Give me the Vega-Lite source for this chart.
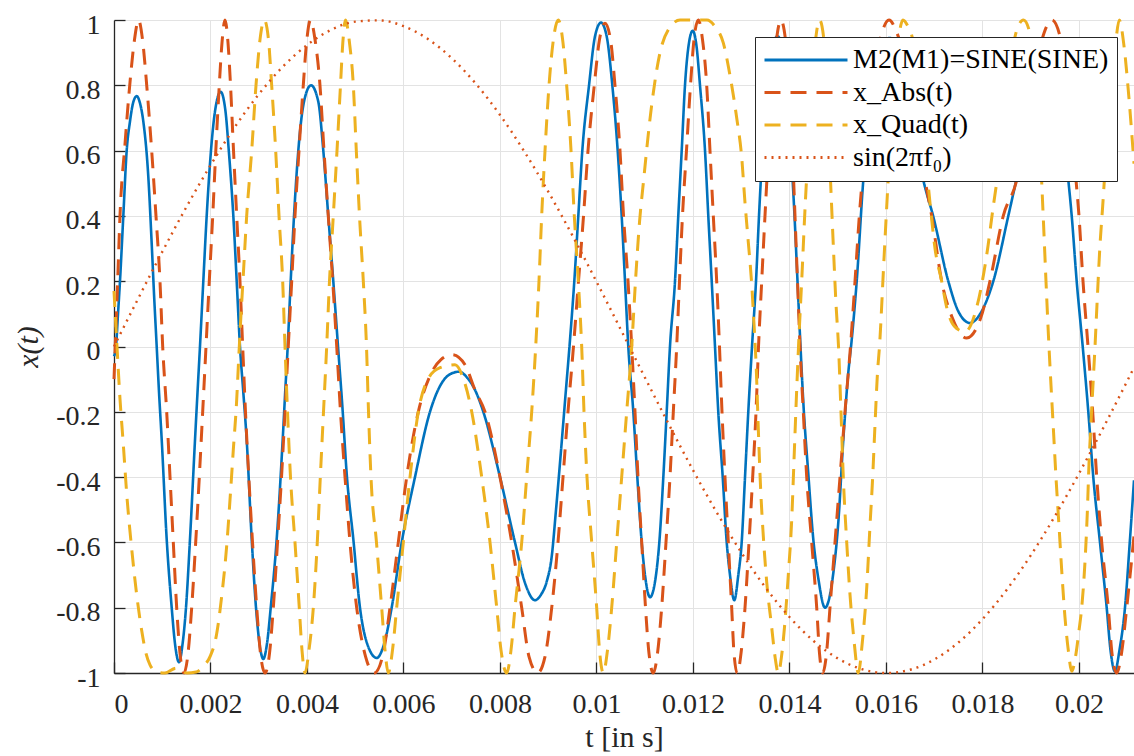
{
  "$schema": "https://vega.github.io/schema/vega-lite/v6.json",
  "width": 1020,
  "height": 653,
  "autosize": {"type": "none"},
  "padding": {"left": 114, "top": 20, "right": 0, "bottom": 83},
  "background": "white",
  "config": {
    "view": {"stroke": null},
    "axis": {
      "domainColor": "#262626",
      "domainWidth": 1.3,
      "tickColor": "#262626",
      "tickSize": -11,
      "tickWidth": 1.3,
      "gridColor": "#e3e3e3",
      "gridWidth": 1,
      "labelFont": "Liberation Serif",
      "labelFontSize": 28,
      "labelColor": "#262626",
      "titleFont": "Liberation Serif",
      "titleFontSize": 30,
      "titleFontWeight": "normal",
      "titleColor": "#262626"
    },
    "legend": {
      "orient": "none",
      "legendX": 641,
      "legendY": 17,
      "symbolType": "stroke",
      "symbolSize": 6889,
      "symbolStrokeWidth": 3,
      "clipHeight": 30,
      "rowPadding": 2.5,
      "labelFont": "Liberation Serif",
      "labelFontSize": 28,
      "labelColor": "black",
      "labelLimit": 400,
      "labelOffset": 4,
      "strokeColor": "#262626",
      "fillColor": "white",
      "padding": 8
    }
  },
  "datasets": {
    "m2": [
      {"t":0,"x":-0.03},{"t":0.000041,"x":0},{"t":0.000083,"x":0.1},{"t":0.000124,"x":0.2},{"t":0.000193,"x":0.4},{"t":0.000263,"x":0.6},{"t":0.000332,"x":0.69},{"t":0.000394,"x":0.745},{"t":0.00047,"x":0.767},{"t":0.000539,"x":0.745},{"t":0.000607,"x":0.69},{"t":0.000711,"x":0.52},{"t":0.000781,"x":0.316},{"t":0.000833,"x":0.15},{"t":0.000885,"x":0},{"t":0.000933,"x":-0.14},{"t":0.000989,"x":-0.286},{"t":0.001092,"x":-0.59},{"t":0.001196,"x":-0.8},{"t":0.001264,"x":-0.91},{"t":0.001347,"x":-0.967},{"t":0.001422,"x":-0.91},{"t":0.001492,"x":-0.8},{"t":0.001575,"x":-0.59},{"t":0.001679,"x":-0.286},{"t":0.001731,"x":-0.14},{"t":0.001782,"x":0},{"t":0.001851,"x":0.2},{"t":0.001921,"x":0.4},{"t":0.00201,"x":0.6},{"t":0.002093,"x":0.72},{"t":0.002211,"x":0.78},{"t":0.002311,"x":0.72},{"t":0.002379,"x":0.6},{"t":0.002473,"x":0.4},{"t":0.002543,"x":0.2},{"t":0.002611,"x":0},{"t":0.00268,"x":-0.14},{"t":0.00275,"x":-0.286},{"t":0.002854,"x":-0.59},{"t":0.002943,"x":-0.8},{"t":0.003016,"x":-0.91},{"t":0.003094,"x":-0.957},{"t":0.003171,"x":-0.91},{"t":0.003248,"x":-0.8},{"t":0.003372,"x":-0.59},{"t":0.003496,"x":-0.286},{"t":0.003548,"x":-0.14},{"t":0.0036,"x":0},{"t":0.003662,"x":0.2},{"t":0.003731,"x":0.4},{"t":0.00382,"x":0.6},{"t":0.003938,"x":0.75},{"t":0.004083,"x":0.8},{"t":0.004234,"x":0.75},{"t":0.004338,"x":0.6},{"t":0.004441,"x":0.4},{"t":0.004545,"x":0.2},{"t":0.004643,"x":0},{"t":0.004736,"x":-0.19},{"t":0.004823,"x":-0.39},{"t":0.00496,"x":-0.59},{"t":0.005098,"x":-0.8},{"t":0.005271,"x":-0.92},{"t":0.005445,"x":-0.954},{"t":0.005617,"x":-0.9},{"t":0.005755,"x":-0.8},{"t":0.005963,"x":-0.6},{"t":0.006238,"x":-0.4},{"t":0.006549,"x":-0.2},{"t":0.006792,"x":-0.112},{"t":0.006964,"x":-0.085},{"t":0.007156,"x":-0.077},{"t":0.007316,"x":-0.095},{"t":0.007482,"x":-0.133},{"t":0.007654,"x":-0.2},{"t":0.008,"x":-0.4},{"t":0.008311,"x":-0.6},{"t":0.008518,"x":-0.724},{"t":0.008725,"x":-0.777},{"t":0.00885,"x":-0.76},{"t":0.008968,"x":-0.72},{"t":0.009072,"x":-0.643},{"t":0.009161,"x":-0.5},{"t":0.009264,"x":-0.32},{"t":0.009357,"x":-0.15},{"t":0.00944,"x":0},{"t":0.00954,"x":0.2},{"t":0.009623,"x":0.4},{"t":0.009706,"x":0.6},{"t":0.009845,"x":0.8},{"t":0.009969,"x":0.95},{"t":0.010093,"x":0.992},{"t":0.010211,"x":0.95},{"t":0.010328,"x":0.8},{"t":0.010439,"x":0.6},{"t":0.010522,"x":0.4},{"t":0.010591,"x":0.2},{"t":0.010659,"x":0},{"t":0.010763,"x":-0.2},{"t":0.010846,"x":-0.4},{"t":0.010937,"x":-0.6},{"t":0.011005,"x":-0.7},{"t":0.011109,"x":-0.768},{"t":0.011233,"x":-0.7},{"t":0.011302,"x":-0.6},{"t":0.011385,"x":-0.4},{"t":0.011455,"x":-0.2},{"t":0.011523,"x":0},{"t":0.011627,"x":0.2},{"t":0.011695,"x":0.4},{"t":0.011766,"x":0.6},{"t":0.011834,"x":0.8},{"t":0.011907,"x":0.92},{"t":0.011994,"x":0.967},{"t":0.012073,"x":0.92},{"t":0.012145,"x":0.8},{"t":0.012249,"x":0.6},{"t":0.012317,"x":0.4},{"t":0.012388,"x":0.2},{"t":0.012456,"x":0},{"t":0.012524,"x":-0.2},{"t":0.012616,"x":-0.4},{"t":0.012699,"x":-0.6},{"t":0.012767,"x":-0.7},{"t":0.012856,"x":-0.777},{"t":0.012939,"x":-0.7},{"t":0.013009,"x":-0.6},{"t":0.013078,"x":-0.4},{"t":0.013146,"x":-0.2},{"t":0.013223,"x":0},{"t":0.013306,"x":0.2},{"t":0.013368,"x":0.4},{"t":0.01344,"x":0.6},{"t":0.013534,"x":0.8},{"t":0.013637,"x":0.92},{"t":0.013755,"x":0.95},{"t":0.013865,"x":0.9},{"t":0.013969,"x":0.76},{"t":0.014031,"x":0.6},{"t":0.014104,"x":0.4},{"t":0.014166,"x":0.2},{"t":0.014228,"x":0},{"t":0.01429,"x":-0.18},{"t":0.01439,"x":-0.39},{"t":0.014493,"x":-0.59},{"t":0.014597,"x":-0.71},{"t":0.014736,"x":-0.8},{"t":0.014908,"x":-0.694},{"t":0.015011,"x":-0.54},{"t":0.015115,"x":-0.286},{"t":0.015219,"x":-0.08},{"t":0.015289,"x":0.02},{"t":0.015393,"x":0.2},{"t":0.01553,"x":0.51},{"t":0.015668,"x":0.72},{"t":0.015814,"x":0.87},{"t":0.015938,"x":0.93},{"t":0.016083,"x":0.945},{"t":0.016249,"x":0.9},{"t":0.016415,"x":0.8},{"t":0.01658,"x":0.66},{"t":0.016773,"x":0.51},{"t":0.01698,"x":0.398},{"t":0.017291,"x":0.2},{"t":0.017492,"x":0.11},{"t":0.017741,"x":0.072},{"t":0.01799,"x":0.11},{"t":0.018224,"x":0.2},{"t":0.018535,"x":0.4},{"t":0.018777,"x":0.56},{"t":0.019026,"x":0.72},{"t":0.019295,"x":0.82},{"t":0.019565,"x":0.72},{"t":0.019778,"x":0.51},{"t":0.019849,"x":0.4},{"t":0.019952,"x":0.2},{"t":0.020077,"x":0},{"t":0.020193,"x":-0.2},{"t":0.020296,"x":-0.4},{"t":0.020435,"x":-0.6},{"t":0.020574,"x":-0.8},{"t":0.020653,"x":-0.93},{"t":0.020746,"x":-0.995},{"t":0.020839,"x":-0.93},{"t":0.020953,"x":-0.8},{"t":0.021057,"x":-0.59},{"t":0.02114,"x":-0.41}
    ],
    "abs": [
      {"t":0,"x":-0.1},{"t":0.000041,"x":0.06},{"t":0.000083,"x":0.23},{"t":0.000124,"x":0.4},{"t":0.000228,"x":0.62},{"t":0.000332,"x":0.81},{"t":0.000425,"x":0.94},{"t":0.000508,"x":1},{"t":0.000591,"x":0.94},{"t":0.000678,"x":0.8},{"t":0.000781,"x":0.6},{"t":0.00087,"x":0.4},{"t":0.000953,"x":0.2},{"t":0.001009,"x":0},{"t":0.001092,"x":-0.2},{"t":0.001161,"x":-0.4},{"t":0.001229,"x":-0.6},{"t":0.001299,"x":-0.8},{"t":0.001368,"x":-0.94},{"t":0.001451,"x":-1},{"t":0.001534,"x":-0.94},{"t":0.00161,"x":-0.8},{"t":0.001693,"x":-0.6},{"t":0.001768,"x":-0.4},{"t":0.001838,"x":-0.2},{"t":0.001907,"x":0},{"t":0.001975,"x":0.2},{"t":0.002046,"x":0.4},{"t":0.00211,"x":0.6},{"t":0.002182,"x":0.8},{"t":0.002238,"x":0.93},{"t":0.002301,"x":1},{"t":0.002363,"x":0.93},{"t":0.002415,"x":0.8},{"t":0.002477,"x":0.6},{"t":0.002543,"x":0.4},{"t":0.002611,"x":0.2},{"t":0.002667,"x":0},{"t":0.002725,"x":-0.2},{"t":0.002794,"x":-0.4},{"t":0.002871,"x":-0.6},{"t":0.002958,"x":-0.8},{"t":0.003036,"x":-0.94},{"t":0.00313,"x":-1},{"t":0.003223,"x":-0.94},{"t":0.003302,"x":-0.8},{"t":0.003389,"x":-0.6},{"t":0.003472,"x":-0.4},{"t":0.003544,"x":-0.2},{"t":0.003612,"x":0},{"t":0.003683,"x":0.2},{"t":0.003751,"x":0.4},{"t":0.003834,"x":0.6},{"t":0.003923,"x":0.8},{"t":0.00399,"x":0.93},{"t":0.004073,"x":1},{"t":0.004166,"x":0.94},{"t":0.004269,"x":0.8},{"t":0.004352,"x":0.6},{"t":0.004441,"x":0.4},{"t":0.004533,"x":0.2},{"t":0.004616,"x":0},{"t":0.004694,"x":-0.2},{"t":0.004788,"x":-0.4},{"t":0.004891,"x":-0.6},{"t":0.00503,"x":-0.8},{"t":0.005214,"x":-0.95},{"t":0.005395,"x":-1},{"t":0.005565,"x":-0.95},{"t":0.00572,"x":-0.8},{"t":0.005892,"x":-0.6},{"t":0.006066,"x":-0.4},{"t":0.006307,"x":-0.2},{"t":0.006549,"x":-0.09},{"t":0.006777,"x":-0.04},{"t":0.007011,"x":-0.025},{"t":0.007275,"x":-0.056},{"t":0.007482,"x":-0.133},{"t":0.007689,"x":-0.2},{"t":0.008,"x":-0.4},{"t":0.008243,"x":-0.6},{"t":0.00845,"x":-0.8},{"t":0.008601,"x":-0.95},{"t":0.008781,"x":-1},{"t":0.008933,"x":-0.95},{"t":0.009072,"x":-0.8},{"t":0.009202,"x":-0.6},{"t":0.009306,"x":-0.4},{"t":0.009409,"x":-0.2},{"t":0.009523,"x":0},{"t":0.009627,"x":0.2},{"t":0.009731,"x":0.4},{"t":0.009824,"x":0.6},{"t":0.009954,"x":0.8},{"t":0.010062,"x":0.94},{"t":0.010176,"x":0.99},{"t":0.01029,"x":0.94},{"t":0.010383,"x":0.8},{"t":0.010487,"x":0.6},{"t":0.01056,"x":0.4},{"t":0.010653,"x":0.2},{"t":0.01073,"x":0},{"t":0.010798,"x":-0.2},{"t":0.01086,"x":-0.4},{"t":0.010937,"x":-0.6},{"t":0.011016,"x":-0.8},{"t":0.011088,"x":-0.94},{"t":0.011177,"x":-1},{"t":0.011264,"x":-0.94},{"t":0.011351,"x":-0.8},{"t":0.01144,"x":-0.6},{"t":0.011523,"x":-0.4},{"t":0.011592,"x":-0.2},{"t":0.011662,"x":0},{"t":0.01172,"x":0.2},{"t":0.011782,"x":0.4},{"t":0.011865,"x":0.6},{"t":0.011948,"x":0.8},{"t":0.012021,"x":0.94},{"t":0.01211,"x":1},{"t":0.012197,"x":0.94},{"t":0.012284,"x":0.8},{"t":0.012352,"x":0.6},{"t":0.012421,"x":0.4},{"t":0.012491,"x":0.2},{"t":0.012549,"x":0},{"t":0.012601,"x":-0.2},{"t":0.012663,"x":-0.4},{"t":0.012732,"x":-0.6},{"t":0.012802,"x":-0.8},{"t":0.01285,"x":-0.94},{"t":0.012918,"x":-1},{"t":0.012995,"x":-0.94},{"t":0.013078,"x":-0.8},{"t":0.013161,"x":-0.6},{"t":0.013237,"x":-0.4},{"t":0.013306,"x":-0.2},{"t":0.013358,"x":0},{"t":0.013424,"x":0.2},{"t":0.013492,"x":0.4},{"t":0.013565,"x":0.6},{"t":0.013648,"x":0.8},{"t":0.013731,"x":0.94},{"t":0.013824,"x":1},{"t":0.013917,"x":0.94},{"t":0.014,"x":0.8},{"t":0.014062,"x":0.6},{"t":0.014114,"x":0.4},{"t":0.014166,"x":0.2},{"t":0.014218,"x":0},{"t":0.014286,"x":-0.2},{"t":0.014357,"x":-0.4},{"t":0.01446,"x":-0.6},{"t":0.014564,"x":-0.8},{"t":0.014622,"x":-0.94},{"t":0.014688,"x":-1},{"t":0.014767,"x":-0.94},{"t":0.014839,"x":-0.8},{"t":0.014943,"x":-0.6},{"t":0.015047,"x":-0.4},{"t":0.01515,"x":-0.2},{"t":0.015264,"x":0},{"t":0.015358,"x":0.2},{"t":0.015447,"x":0.4},{"t":0.015586,"x":0.63},{"t":0.015731,"x":0.82},{"t":0.015896,"x":0.95},{"t":0.016062,"x":1},{"t":0.016228,"x":0.96},{"t":0.016394,"x":0.88},{"t":0.016601,"x":0.7},{"t":0.016808,"x":0.51},{"t":0.016947,"x":0.4},{"t":0.017154,"x":0.2},{"t":0.017368,"x":0.09},{"t":0.017673,"x":0.026},{"t":0.017969,"x":0.09},{"t":0.018155,"x":0.2},{"t":0.018431,"x":0.4},{"t":0.018709,"x":0.51},{"t":0.018984,"x":0.75},{"t":0.019233,"x":0.94},{"t":0.01944,"x":1},{"t":0.019606,"x":0.95},{"t":0.019751,"x":0.82},{"t":0.019855,"x":0.65},{"t":0.019938,"x":0.51},{"t":0.02,"x":0.4},{"t":0.020083,"x":0.2},{"t":0.020187,"x":0},{"t":0.020284,"x":-0.2},{"t":0.020367,"x":-0.4},{"t":0.020471,"x":-0.6},{"t":0.020607,"x":-0.8},{"t":0.020684,"x":-0.94},{"t":0.020781,"x":-1},{"t":0.020881,"x":-0.94},{"t":0.020989,"x":-0.8},{"t":0.02114,"x":-0.58}
    ],
    "quad": [
      {"t":0,"x":0.17},{"t":0.000062,"x":0},{"t":0.000124,"x":-0.16},{"t":0.000193,"x":-0.3},{"t":0.000263,"x":-0.45},{"t":0.000367,"x":-0.62},{"t":0.00047,"x":-0.76},{"t":0.000574,"x":-0.87},{"t":0.000663,"x":-0.94},{"t":0.000746,"x":-0.975},{"t":0.000891,"x":-0.997},{"t":0.001057,"x":-1},{"t":0.001285,"x":-0.985},{"t":0.001513,"x":-1},{"t":0.0017,"x":-0.997},{"t":0.001845,"x":-0.98},{"t":0.00199,"x":-0.95},{"t":0.002128,"x":-0.88},{"t":0.002232,"x":-0.765},{"t":0.002336,"x":-0.61},{"t":0.002404,"x":-0.47},{"t":0.002473,"x":-0.316},{"t":0.002543,"x":-0.163},{"t":0.00258,"x":-0.05},{"t":0.002622,"x":0.07},{"t":0.002684,"x":0.23},{"t":0.00275,"x":0.4},{"t":0.002854,"x":0.6},{"t":0.002943,"x":0.8},{"t":0.003026,"x":0.94},{"t":0.003115,"x":1},{"t":0.003202,"x":0.94},{"t":0.003268,"x":0.8},{"t":0.003351,"x":0.6},{"t":0.00342,"x":0.4},{"t":0.003496,"x":0.2},{"t":0.003544,"x":0},{"t":0.003596,"x":-0.2},{"t":0.003658,"x":-0.4},{"t":0.003751,"x":-0.6},{"t":0.00384,"x":-0.8},{"t":0.003896,"x":-0.93},{"t":0.003959,"x":-1},{"t":0.004041,"x":-0.93},{"t":0.004131,"x":-0.8},{"t":0.004213,"x":-0.6},{"t":0.004276,"x":-0.4},{"t":0.004342,"x":-0.2},{"t":0.004408,"x":0},{"t":0.004466,"x":0.2},{"t":0.004545,"x":0.4},{"t":0.004622,"x":0.6},{"t":0.004694,"x":0.8},{"t":0.004742,"x":0.93},{"t":0.004798,"x":1},{"t":0.004881,"x":0.93},{"t":0.00496,"x":0.8},{"t":0.005022,"x":0.6},{"t":0.005088,"x":0.4},{"t":0.005167,"x":0.2},{"t":0.005233,"x":0},{"t":0.005275,"x":-0.2},{"t":0.005326,"x":-0.4},{"t":0.00544,"x":-0.6},{"t":0.005548,"x":-0.8},{"t":0.005617,"x":-0.93},{"t":0.005685,"x":-1},{"t":0.005772,"x":-0.93},{"t":0.005859,"x":-0.8},{"t":0.005996,"x":-0.6},{"t":0.006135,"x":-0.4},{"t":0.006307,"x":-0.2},{"t":0.006508,"x":-0.1},{"t":0.006757,"x":-0.065},{"t":0.007067,"x":-0.056},{"t":0.007244,"x":-0.1},{"t":0.007414,"x":-0.2},{"t":0.007621,"x":-0.4},{"t":0.007793,"x":-0.6},{"t":0.007932,"x":-0.8},{"t":0.008021,"x":-0.93},{"t":0.008139,"x":-1},{"t":0.008228,"x":-0.93},{"t":0.008311,"x":-0.8},{"t":0.00845,"x":-0.6},{"t":0.008553,"x":-0.4},{"t":0.008657,"x":-0.2},{"t":0.00874,"x":0},{"t":0.008808,"x":0.2},{"t":0.008864,"x":0.4},{"t":0.008933,"x":0.6},{"t":0.009016,"x":0.8},{"t":0.009098,"x":0.93},{"t":0.009208,"x":1},{"t":0.009306,"x":0.93},{"t":0.009382,"x":0.8},{"t":0.009472,"x":0.6},{"t":0.00954,"x":0.4},{"t":0.009623,"x":0.2},{"t":0.009693,"x":0},{"t":0.009741,"x":-0.2},{"t":0.009803,"x":-0.4},{"t":0.009901,"x":-0.6},{"t":0.010004,"x":-0.8},{"t":0.010062,"x":-0.93},{"t":0.010141,"x":-1},{"t":0.010228,"x":-0.93},{"t":0.010315,"x":-0.8},{"t":0.010419,"x":-0.6},{"t":0.010522,"x":-0.4},{"t":0.010626,"x":-0.2},{"t":0.01073,"x":0},{"t":0.010808,"x":0.2},{"t":0.010891,"x":0.38},{"t":0.01097,"x":0.5},{"t":0.011144,"x":0.74},{"t":0.011316,"x":0.9},{"t":0.011488,"x":0.97},{"t":0.011731,"x":1},{"t":0.012021,"x":1},{"t":0.01229,"x":1},{"t":0.012456,"x":0.98},{"t":0.012628,"x":0.93},{"t":0.012767,"x":0.83},{"t":0.012906,"x":0.7},{"t":0.013009,"x":0.58},{"t":0.013078,"x":0.44},{"t":0.013146,"x":0.32},{"t":0.013217,"x":0.19},{"t":0.013264,"x":0.07},{"t":0.013312,"x":-0.07},{"t":0.013353,"x":-0.25},{"t":0.013403,"x":-0.44},{"t":0.013457,"x":-0.58},{"t":0.013527,"x":-0.72},{"t":0.013631,"x":-0.86},{"t":0.0137,"x":-0.95},{"t":0.013768,"x":-1},{"t":0.013834,"x":-0.95},{"t":0.013896,"x":-0.86},{"t":0.013975,"x":-0.7},{"t":0.014046,"x":-0.53},{"t":0.014093,"x":-0.35},{"t":0.014139,"x":-0.17},{"t":0.014187,"x":0},{"t":0.014259,"x":0.22},{"t":0.014321,"x":0.42},{"t":0.014394,"x":0.62},{"t":0.014477,"x":0.83},{"t":0.014549,"x":0.95},{"t":0.014622,"x":1},{"t":0.014705,"x":0.95},{"t":0.014777,"x":0.78},{"t":0.014839,"x":0.55},{"t":0.014902,"x":0.33},{"t":0.014964,"x":0.13},{"t":0.015016,"x":0},{"t":0.015067,"x":-0.2},{"t":0.015115,"x":-0.4},{"t":0.015186,"x":-0.6},{"t":0.015254,"x":-0.76},{"t":0.015337,"x":-0.9},{"t":0.015426,"x":-1},{"t":0.015513,"x":-0.9},{"t":0.015596,"x":-0.75},{"t":0.015668,"x":-0.55},{"t":0.015724,"x":-0.4},{"t":0.015772,"x":-0.24},{"t":0.015824,"x":-0.08},{"t":0.015865,"x":0},{"t":0.015959,"x":0.27},{"t":0.016041,"x":0.5},{"t":0.016145,"x":0.77},{"t":0.016249,"x":0.93},{"t":0.016352,"x":1},{"t":0.016456,"x":0.98},{"t":0.016539,"x":0.95},{"t":0.016663,"x":0.82},{"t":0.016788,"x":0.63},{"t":0.016912,"x":0.44},{"t":0.017016,"x":0.3},{"t":0.017154,"x":0.2},{"t":0.017258,"x":0.12},{"t":0.01743,"x":0.06},{"t":0.017637,"x":0.045},{"t":0.01788,"x":0.12},{"t":0.018087,"x":0.28},{"t":0.018224,"x":0.43},{"t":0.018301,"x":0.51},{"t":0.018446,"x":0.7},{"t":0.018611,"x":0.9},{"t":0.018736,"x":0.98},{"t":0.01885,"x":1},{"t":0.018964,"x":0.97},{"t":0.019088,"x":0.82},{"t":0.019212,"x":0.55},{"t":0.019264,"x":0.38},{"t":0.019316,"x":0.2},{"t":0.019368,"x":0.03},{"t":0.01942,"x":-0.12},{"t":0.019472,"x":-0.26},{"t":0.019523,"x":-0.4},{"t":0.019586,"x":-0.55},{"t":0.019648,"x":-0.7},{"t":0.01971,"x":-0.83},{"t":0.019778,"x":-0.93},{"t":0.019849,"x":-0.995},{"t":0.019928,"x":-0.95},{"t":0.02,"x":-0.87},{"t":0.020056,"x":-0.8},{"t":0.020124,"x":-0.66},{"t":0.020172,"x":-0.51},{"t":0.020207,"x":-0.36},{"t":0.020243,"x":-0.25},{"t":0.020296,"x":-0.1},{"t":0.020332,"x":0},{"t":0.020367,"x":0.11},{"t":0.020435,"x":0.31},{"t":0.020491,"x":0.43},{"t":0.020574,"x":0.62},{"t":0.020643,"x":0.77},{"t":0.020746,"x":0.91},{"t":0.020835,"x":1},{"t":0.020933,"x":0.92},{"t":0.021036,"x":0.76},{"t":0.02114,"x":0.56}
    ],
    "sine": [
      {"t":0,"x":0},{"t":0.0005,"x":0.1465},{"t":0.001,"x":0.2899},{"t":0.0015,"x":0.4271},{"t":0.002,"x":0.555},{"t":0.0025,"x":0.6711},{"t":0.003,"x":0.7723},{"t":0.0035,"x":0.8571},{"t":0.004,"x":0.9232},{"t":0.0045,"x":0.9698},{"t":0.005,"x":0.995},{"t":0.0055,"x":0.9989},{"t":0.006,"x":0.9812},{"t":0.0065,"x":0.9424},{"t":0.007,"x":0.8831},{"t":0.0075,"x":0.8048},{"t":0.008,"x":0.7092},{"t":0.0085,"x":0.5981},{"t":0.009,"x":0.4742},{"t":0.0095,"x":0.3403},{"t":0.01,"x":0.1987},{"t":0.0105,"x":0.0529},{"t":0.011,"x":-0.094},{"t":0.0115,"x":-0.2389},{"t":0.012,"x":-0.3786},{"t":0.0125,"x":-0.5102},{"t":0.013,"x":-0.6305},{"t":0.0135,"x":-0.7377},{"t":0.014,"x":-0.8287},{"t":0.0145,"x":-0.902},{"t":0.015,"x":-0.9553},{"t":0.0155,"x":-0.9882},{"t":0.016,"x":-1},{"t":0.0165,"x":-0.99},{"t":0.017,"x":-0.9587},{"t":0.0175,"x":-0.9067},{"t":0.018,"x":-0.8351},{"t":0.0185,"x":-0.7455},{"t":0.019,"x":-0.6397},{"t":0.0195,"x":-0.52},{"t":0.02,"x":-0.3889},{"t":0.0205,"x":-0.2502},{"t":0.021,"x":-0.1056},{"t":0.02114,"x":-0.0646}
    ]
  },
  "encoding": {
    "x": {
      "field": "t",
      "type": "quantitative",
      "scale": {"domain": [0, 0.02114], "nice": false, "zero": false},
      "axis": {
        "values": [0, 0.002, 0.004, 0.006, 0.008, 0.01, 0.012, 0.014, 0.016, 0.018, 0.02],
        "labelExpr": "replace(format(datum.value, '~g'), '\u2212', '-')",
        "labelPadding": 28,
        "title": "t [in s]",
        "titlePadding": 4
      }
    },
    "y": {
      "field": "x",
      "type": "quantitative",
      "scale": {"domain": [-1, 1], "nice": false},
      "axis": {
        "values": [-1, -0.8, -0.6, -0.4, -0.2, 0, 0.2, 0.4, 0.6, 0.8, 1],
        "labelExpr": "replace(format(datum.value, '~g'), '\u2212', '-')",
        "labelPadding": 25,
        "labelOffset": 5,
        "title": "x(t)",
        "titleFontStyle": "italic",
        "titlePadding": 12
      }
    }
  },
  "layer": [
    {
      "data": {"name": "m2"},
      "mark": {"type": "line", "interpolate": "monotone", "strokeWidth": 2.6},
      "encoding": {
        "color": {
          "datum": "M2(M1)=SINE(SINE)",
          "type": "nominal",
          "scale": {"domain": ["M2(M1)=SINE(SINE)", "x_Abs(t)", "x_Quad(t)", "sin(2πf₀)"], "range": ["#0072BD", "#D95319", "#EDB120", "#D95319"]},
          "legend": {"title": null}
        },
        "strokeDash": {
          "datum": "M2(M1)=SINE(SINE)",
          "type": "nominal",
          "scale": {"domain": ["M2(M1)=SINE(SINE)", "x_Abs(t)", "x_Quad(t)", "sin(2πf₀)"], "range": [[1, 0], [16, 10], [16, 10], [2, 5]]},
          "legend": {"title": null}
        }
      }
    },
    {
      "data": {"name": "abs"},
      "mark": {"type": "line", "interpolate": "monotone", "strokeWidth": 3},
      "encoding": {
        "color": {"datum": "x_Abs(t)", "type": "nominal"},
        "strokeDash": {"datum": "x_Abs(t)", "type": "nominal"}
      }
    },
    {
      "data": {"name": "quad"},
      "mark": {"type": "line", "interpolate": "monotone", "strokeWidth": 3},
      "encoding": {
        "color": {"datum": "x_Quad(t)", "type": "nominal"},
        "strokeDash": {"datum": "x_Quad(t)", "type": "nominal"}
      }
    },
    {
      "data": {"name": "sine"},
      "mark": {"type": "line", "interpolate": "monotone", "strokeWidth": 2.4},
      "encoding": {
        "color": {"datum": "sin(2πf₀)", "type": "nominal"},
        "strokeDash": {"datum": "sin(2πf₀)", "type": "nominal"}
      }
    }
  ]
}
